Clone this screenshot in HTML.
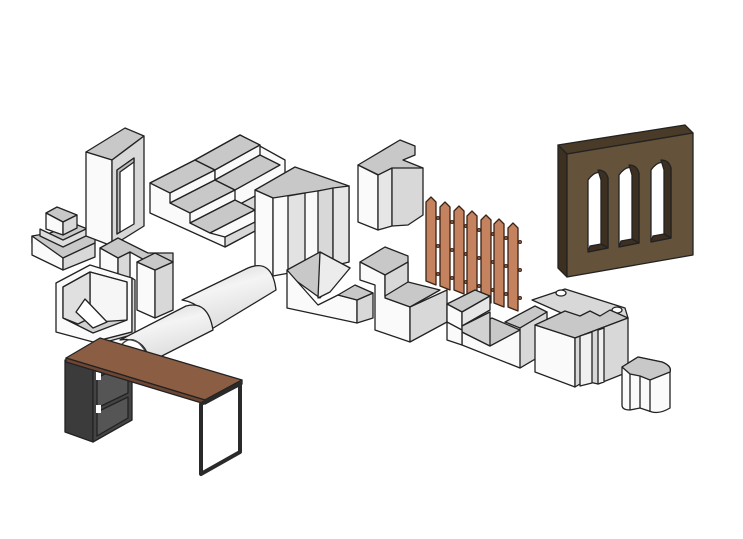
<!DOCTYPE html>
<html><head><meta charset="utf-8"><style>
html,body{margin:0;padding:0;background:#fff;}
svg{display:block}
</style></head><body>
<svg width="743" height="539" viewBox="0 0 743 539" xmlns="http://www.w3.org/2000/svg">
<defs>
<linearGradient id="cyl" x1="0" y1="0" x2="0.4" y2="1">
<stop offset="0" stop-color="#cfcfcf"/><stop offset="0.45" stop-color="#f4f4f4"/><stop offset="1" stop-color="#dcdcdc"/>
</linearGradient>
</defs>
<g stroke="#222" stroke-width="1.3" stroke-linejoin="round">

<!-- small stepped piece -->
<polygon points="32,243 63,258 95,243 95,232 75,224 50,233 32,236" fill="#c8c8c8"/>
<polygon points="32,236 32,255 63,270 63,258" fill="#fafafa"/>
<polygon points="63,258 95,243 95,257 63,270" fill="#d8d8d8"/>
<polygon points="40,236 63,247 88,235 88,228 63,240 40,229" fill="#ddd"/>
<polygon points="46,213 57,207 77,215 63,222" fill="#c8c8c8"/>
<polygon points="46,213 63,222 63,235 46,229" fill="#fafafa"/>
<polygon points="63,222 77,215 77,228 63,235" fill="#d8d8d8"/>

<!-- arch / doorway -->
<polygon points="86,152 125,128 144,136 112,160" fill="#c8c8c8"/>
<polygon points="86,152 112,160 112,246 86,236" fill="#fafafa"/>
<polygon points="112,160 144,136 144,226 112,246" fill="#d8d8d8"/>
<polygon points="117,170 134,158 134,224 117,234" fill="#fff"/>
<polygon points="117,170 134,158 134,162 120,172 120,232 117,234" fill="#bbb"/>

<!-- stairs -->
<polygon points="150,183 195,160 240,135 285,160 285,215 225,247 150,213" fill="#fafafa"/>
<polygon points="225,247 285,215 285,180 225,212" fill="#d8d8d8"/>
<polygon points="150,183 195,160 215,170 170,193" fill="#c8c8c8"/>
<polygon points="170,193 215,170 215,180 170,203" fill="#fafafa"/>
<polygon points="170,203 215,180 235,190 190,213" fill="#c8c8c8"/>
<polygon points="190,213 235,190 235,200 190,223" fill="#fafafa"/>
<polygon points="190,223 235,200 255,210 210,233" fill="#c8c8c8"/>
<polygon points="195,160 240,135 260,145 215,170" fill="#c8c8c8"/>
<polygon points="215,170 260,145 260,155 215,180" fill="#fafafa"/>
<polygon points="215,180 260,155 280,165 235,190" fill="#c8c8c8"/>
<polygon points="210,233 255,210 255,222 225,237" fill="#fafafa"/>

<!-- grooved tall block -->
<polygon points="255,190 295,167 349,186 310,205 273,198" fill="#c8c8c8"/>
<polygon points="255,190 273,198 273,276 255,268" fill="#fafafa"/>
<polygon points="273,198 349,186 349,262 273,276" fill="#fafafa"/>
<polygon points="288,196 305,193 305,273 288,274" fill="#e2e2e2"/>
<polygon points="318,191 333,188 333,266 318,269" fill="#d8d8d8"/>
<polygon points="333,188 349,186 349,262 333,266" fill="#e6e6e6"/>

<!-- U block -->
<polygon points="100,248 118,238 148,253 173,253 173,262 148,262 130,252 118,258" fill="#c8c8c8"/>
<polygon points="100,248 118,258 118,300 100,292" fill="#fafafa"/>
<polygon points="118,258 130,252 130,300 118,306" fill="#d8d8d8"/>
<polygon points="137,262 155,270 155,318 137,310" fill="#fafafa"/>
<polygon points="155,270 173,262 173,310 155,318" fill="#d8d8d8"/>
<polygon points="137,262 155,253 173,262 155,270" fill="#c8c8c8"/>

<!-- box with wedge -->
<polygon points="56,283 90,265 132,278 132,332 93,342 56,332" fill="#fafafa"/>
<polygon points="63,287 90,272 127,282 127,320 93,333 63,318" fill="#d0d0d0"/>
<polygon points="90,272 127,282 127,320 98,322 90,318" fill="#f6f6f6"/>
<polygon points="63,287 90,272 90,318 78,324 63,318" fill="#e0e0e0"/>
<polygon points="76,312 85,299 107,322 93,328" fill="#fff"/>
<polygon points="93,342 132,332 132,278 135,280 135,334 95,345" fill="#d8d8d8"/>

<!-- cylinders -->
<path d="M182,300 L248,268 Q272,258 276,290 L210,330 Q206,304 182,300 Z" fill="url(#cyl)"/>
<path d="M120,340 L186,306 Q208,300 213,330 L150,362 Q145,336 120,340 Z" fill="url(#cyl)"/>
<path d="M122,344 Q136,330 150,360" fill="none" stroke="#444"/>

<!-- desk -->
<polygon points="65,360 93,370 93,442 65,432" fill="#3b3b3b"/>
<polygon points="93,370 132,352 132,420 93,442" fill="#444"/>
<polygon points="97,378 128,362 128,393 97,408" fill="#555"/>
<polygon points="97,412 128,397 128,418 97,436" fill="#555"/>
<rect x="96" y="372" width="5" height="8" fill="#fff" stroke="none"/>
<rect x="96" y="405" width="5" height="8" fill="#fff" stroke="none"/>
<polygon points="66,358 100,338 242,380 205,400" fill="#8b5e44"/>
<polygon points="66,358 205,400 205,404 66,362" fill="#6e4633"/>
<polygon points="205,400 242,380 242,384 205,404" fill="#6e4633"/>
<polygon points="201,404 240,384 240,452 201,474" fill="none" stroke="#2a2a2a" stroke-width="4"/>

<!-- V-notch block -->
<polygon points="287,270 320,252 350,268 335,280 320,298 295,280" fill="#c8c8c8"/>
<polygon points="320,252 350,268 330,292 318,298" fill="#ececec"/>
<polygon points="287,270 287,308 357,323 357,300 338,295 318,305" fill="#fafafa"/>
<polygon points="357,300 373,293 373,318 357,323" fill="#d8d8d8"/>
<polygon points="338,295 355,285 373,293 357,300" fill="#c8c8c8"/>

<!-- block top middle -->
<polygon points="358,165 400,140 415,146 415,155 403,160 423,168 385,178" fill="#c8c8c8"/>
<polygon points="358,165 378,175 378,230 358,222" fill="#fafafa"/>
<polygon points="378,175 392,168 392,226 378,230" fill="#e6e6e6"/>
<polygon points="392,168 423,168 423,215 408,225 392,226" fill="#d8d8d8"/>

<!-- step block -->
<polygon points="360,262 385,247 408,256 408,282 440,290 410,307 385,298 385,275" fill="#c8c8c8"/>
<polygon points="360,262 385,275 385,298 410,307 410,342 375,330 375,285 360,280" fill="#fafafa"/>
<polygon points="410,307 447,290 447,322 410,342" fill="#d8d8d8"/>
<polygon points="385,275 408,262 408,282 385,296" fill="#d8d8d8"/>

<!-- fence -->
<g fill="#8a5a40" stroke="#3a2418" stroke-width="0.8">
<circle cx="438" cy="218" r="1.6"/><circle cx="452" cy="222" r="1.6"/><circle cx="466" cy="226" r="1.6"/><circle cx="479" cy="230" r="1.6"/><circle cx="493" cy="234" r="1.6"/><circle cx="506" cy="238" r="1.6"/><circle cx="520" cy="242" r="1.6"/>
<circle cx="438" cy="246" r="1.6"/><circle cx="452" cy="250" r="1.6"/><circle cx="466" cy="254" r="1.6"/><circle cx="479" cy="258" r="1.6"/><circle cx="493" cy="262" r="1.6"/><circle cx="506" cy="266" r="1.6"/><circle cx="520" cy="270" r="1.6"/>
<circle cx="438" cy="274" r="1.6"/><circle cx="452" cy="278" r="1.6"/><circle cx="466" cy="282" r="1.6"/><circle cx="479" cy="286" r="1.6"/><circle cx="493" cy="290" r="1.6"/><circle cx="506" cy="294" r="1.6"/><circle cx="520" cy="298" r="1.6"/>
</g>
<g fill="#c4825e" stroke="#3a2418">
<polygon points="426,202 431,197 436,202 436,285 426,281"/>
<polygon points="440,207 445,202 450,207 450,290 440,286"/>
<polygon points="454,211 459,206 464,211 464,294 454,290"/>
<polygon points="467,216 472,211 477,216 477,299 467,295"/>
<polygon points="481,220 486,215 491,220 491,303 481,299"/>
<polygon points="494,224 499,219 504,224 504,307 494,303"/>
<polygon points="508,228 513,223 518,228 518,311 508,307"/>
</g>

<!-- U-channel -->
<polygon points="447,304 475,290 490,296 462,312" fill="#c8c8c8"/>
<polygon points="447,304 462,312 462,345 520,368 547,352 547,318 520,330 492,320 462,332 447,322" fill="#fafafa"/>
<polygon points="462,312 490,296 490,310 462,326" fill="#e6e6e6"/>
<polygon points="462,332 492,318 520,330 490,346" fill="#c8c8c8"/>
<polygon points="462,332 490,346 490,312 462,326" fill="#d2d2d2"/>
<polygon points="505,322 535,306 547,312 520,328" fill="#c8c8c8"/>
<polygon points="520,328 547,312 547,352 520,368" fill="#d8d8d8"/>
<polygon points="447,322 462,330 462,345 447,340" fill="#fafafa"/>

<!-- wall panel -->
<polygon points="558,145 685,125 693,133 567,154" fill="#4a3b28"/>
<polygon points="558,145 567,154 567,277 558,268" fill="#3d3020"/>
<polygon points="567,154 693,133 693,255 567,277" fill="#64533a"/>
<g fill="#fff">
<path d="M588,252 L588,180 Q598,166 608,178 L608,248 Z"/>
<path d="M619,247 L619,175 Q629,161 639,173 L639,243 Z"/>
<path d="M651,242 L651,170 Q661,156 671,168 L671,238 Z"/>
</g>
<g fill="#3d3020">
<path d="M598,170 Q606,170 608,178 L608,248 L601,244 L601,180 Z"/>
<path d="M629,165 Q637,165 639,173 L639,243 L632,239 L632,175 Z"/>
<path d="M661,160 Q669,160 671,168 L671,238 L664,234 L664,170 Z"/>
<path d="M588,252 L608,248 L601,244 L590,246 Z"/>
<path d="M619,247 L639,243 L632,239 L621,241 Z"/>
<path d="M651,242 L671,238 L664,234 L653,236 Z"/>
</g>

<!-- block with plate -->
<polygon points="532,300 565,289 625,308 628,318 600,330" fill="#d8d8d8"/>
<ellipse cx="561" cy="293" rx="5" ry="3" fill="#fff"/>
<ellipse cx="617" cy="310" rx="5" ry="3" fill="#fff"/>
<polygon points="535,325 565,311 580,316 590,311 600,316 610,310 628,318 575,338" fill="#c8c8c8"/>
<polygon points="535,325 575,338 575,387 535,372" fill="#fafafa"/>
<polygon points="575,338 628,318 628,372 598,384 585,381 575,387" fill="#d8d8d8"/>
<polygon points="580,336 592,332 592,383 580,386" fill="#f0f0f0"/>
<polygon points="598,330 604,328 604,382 598,384" fill="#f0f0f0"/>

<!-- small cylinder piece -->
<path d="M622,367 L638,357 L662,362 Q672,366 670,372 L670,408 Q660,414 652,412 L640,408 L630,410 Q622,410 622,405 Z" fill="#fafafa"/>
<path d="M622,367 L638,357 L662,362 Q672,366 670,372 L650,380 L640,376 L630,374 Z" fill="#c8c8c8"/>
<line x1="630" y1="374" x2="630" y2="410"/>
<line x1="640" y1="376" x2="640" y2="408"/>
<line x1="650" y1="380" x2="650" y2="412"/>
</g>
</svg>
</body></html>
